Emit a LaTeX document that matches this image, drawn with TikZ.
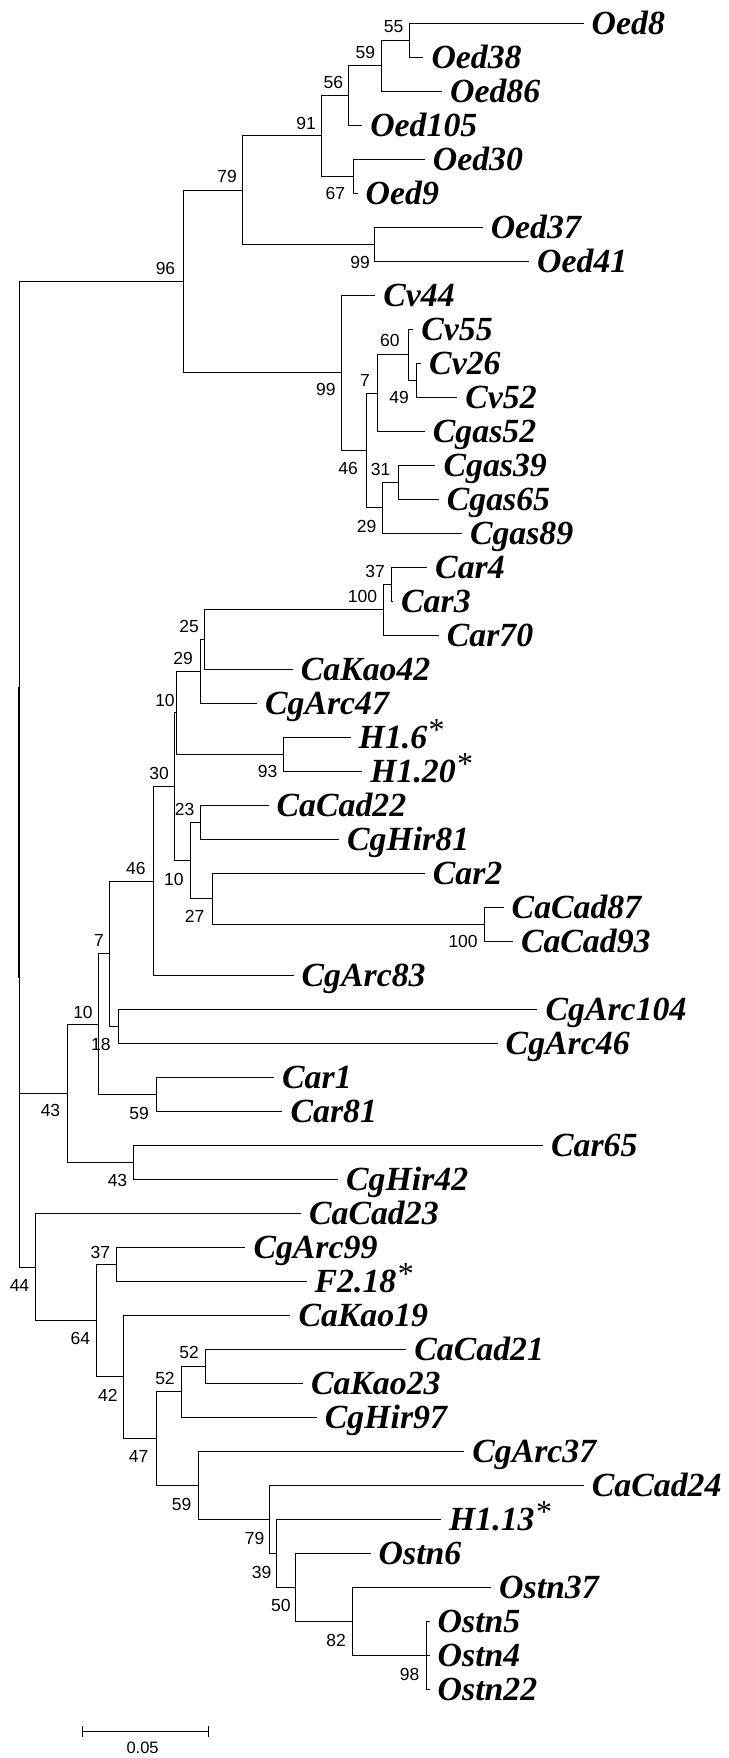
\documentclass[tikz,border=0pt]{standalone}
\usepackage{fontspec}
\setmainfont{Liberation Serif}
\newfontfamily\bsfont{Liberation Sans}
\tikzset{
  br/.style={line width=1pt, black, line cap=rect},
  taxon/.style={anchor=base west, inner sep=0pt, font=\fontsize{33.8}{33.8}\selectfont\bfseries\itshape},
  boot/.style={inner sep=0pt, font=\bsfont\fontsize{17.5}{17.5}\selectfont},
}
\newcommand\mystar{\hspace{1.5pt}\raisebox{8pt}{\fontsize{32}{32}\selectfont\mdseries\upshape *}}
\newcommand\mkleaf[4]{\coordinate (#1) at (#2,#3); \node[taxon] (#1L) at ([xshift=8.5pt,yshift=-11pt]#1) {#4};}
\begin{document}
\begin{tikzpicture}[x=1pt,y=-1pt]
\useasboundingbox (0,0) rectangle (728,1758);
% leaves
\mkleaf{oed8}{583}{23.3}{Oed8}
\mkleaf{oed38}{422.8}{57.3}{Oed38}
\mkleaf{oed86}{441.4}{91.3}{Oed86}
\mkleaf{oed105}{361.6}{125.3}{Oed105}
\mkleaf{oed30}{424.2}{159.3}{Oed30}
\mkleaf{oed9}{357}{193.3}{Oed9}
\mkleaf{oed37}{482.1}{227.3}{Oed37}
\mkleaf{oed41}{528.5}{261.3}{Oed41}
\mkleaf{cv44}{374.6}{295.3}{Cv44}
\mkleaf{cv55}{412.6}{329.3}{Cv55}
\mkleaf{cv26}{420.5}{363.3}{Cv26}
\mkleaf{cv52}{456.6}{397.3}{Cv52}
\mkleaf{cgas52}{424.2}{431.3}{Cgas52}
\mkleaf{cgas39}{434.9}{465.3}{Cgas39}
\mkleaf{cgas65}{438.1}{499.3}{Cgas65}
\mkleaf{cgas89}{461.3}{533.3}{Cgas89}
\mkleaf{car4}{426.5}{567.3}{Car4}
\mkleaf{car3}{392.5}{601.3}{Car3}
\mkleaf{car70}{438.1}{635.3}{Car70}
\mkleaf{cakao42}{292.1}{669.3}{CaKao42}
\mkleaf{cgarc47}{256.4}{703.3}{CgArc47}
\mkleaf{h16}{350}{737.3}{H1.6\mystar}
\mkleaf{h120}{361.6}{771.3}{H1.20\mystar}
\mkleaf{cacad22}{268}{805.3}{CaCad22}
\mkleaf{cghir81}{338.4}{839.3}{CgHir81}
\mkleaf{car2}{424.2}{873.3}{Car2}
\mkleaf{cacad87}{503}{907.3}{CaCad87}
\mkleaf{cacad93}{512.3}{941.3}{CaCad93}
\mkleaf{cgarc83}{293}{975.3}{CgArc83}
\mkleaf{cgarc104}{536.9}{1009.3}{CgArc104}
\mkleaf{cgarc46}{497}{1043.3}{CgArc46}
\mkleaf{car1}{273.5}{1077.3}{Car1}
\mkleaf{car81}{281.9}{1111.3}{Car81}
\mkleaf{car65}{542.4}{1145.3}{Car65}
\mkleaf{cghir42}{337.5}{1179.3}{CgHir42}
\mkleaf{cacad23}{300.4}{1213.3}{CaCad23}
\mkleaf{cgarc99}{244.8}{1247.3}{CgArc99}
\mkleaf{f218}{306}{1281.3}{F2.18\mystar}
\mkleaf{cakao19}{289.8}{1315.3}{CaKao19}
\mkleaf{cacad21}{405.7}{1349.3}{CaCad21}
\mkleaf{cakao23}{302.3}{1383.3}{CaKao23}
\mkleaf{cghir97}{316.2}{1417.3}{CgHir97}
\mkleaf{cgarc37}{463.6}{1451.3}{CgArc37}
\mkleaf{cacad24}{583.2}{1485.3}{CaCad24}
\mkleaf{h113}{440.4}{1519.3}{H1.13\mystar}
\mkleaf{ostn6}{370}{1553.3}{Ostn6}
\mkleaf{ostn37}{490.5}{1587.3}{Ostn37}
\mkleaf{ostn5}{429}{1621.3}{Ostn5}
\mkleaf{ostn4}{429}{1655.3}{Ostn4}
\mkleaf{ostn22}{429}{1689.3}{Ostn22}
% internal nodes
\coordinate (n55) at (409.4,40.3);
\coordinate (n59) at (381,65.8);
\coordinate (n56) at (348.6,95.55);
\coordinate (n67) at (353.3,176.3);
\coordinate (n91) at (321.3,135.9);
\coordinate (n99a) at (374.6,244.3);
\coordinate (n79) at (242,190.1);
\coordinate (n49) at (416.3,380.3);
\coordinate (n60) at (408,354.8);
\coordinate (n7a) at (377.8,393.05);
\coordinate (n31) at (398.7,482.3);
\coordinate (n29a) at (382.5,507.8);
\coordinate (n46a) at (366.2,450.4);
\coordinate (n99b) at (341.7,372.9);
\coordinate (n96) at (183.1,281.5);
\coordinate (n37a) at (391.7,584.3);
\coordinate (n100a) at (383.6,609.8);
\coordinate (n25) at (204.9,639.55);
\coordinate (n29b) at (200.3,671.4);
\coordinate (n93) at (283.7,754.3);
\coordinate (n10a) at (176,712.9);
\coordinate (n23) at (200.3,822.3);
\coordinate (n100b) at (484.5,924.3);
\coordinate (n27) at (212.3,898.8);
\coordinate (n10b) at (190.1,860.55);
\coordinate (n30) at (174.8,786.7);
\coordinate (n46b) at (153,881);
\coordinate (n18) at (118.2,1026.3);
\coordinate (n7b) at (109.9,953.65);
\coordinate (n59a) at (156.7,1094.3);
\coordinate (n10c) at (98.3,1024);
\coordinate (n43b) at (133.5,1162.3);
\coordinate (n43a) at (67.2,1093.1);
\coordinate (n52i) at (205.4,1366.3);
\coordinate (n52o) at (181.7,1391.8);
\coordinate (n98) at (426.5,1655.3);
\coordinate (n82) at (352.3,1621.3);
\coordinate (n50) at (295.8,1587.3);
\coordinate (n39) at (276.3,1553.3);
\coordinate (n79b) at (269.4,1519.3);
\coordinate (n59b) at (198.4,1485.3);
\coordinate (n47) at (156.2,1438.55);
\coordinate (n42) at (123.8,1376.9);
\coordinate (n37b) at (116.8,1264.3);
\coordinate (n64) at (96.9,1320.6);
\coordinate (n44) at (35.7,1267);
\coordinate (root) at (19.5,687.3);
\coordinate (rootA) at (18,687.3);
\coordinate (rootB) at (18,977.2);
% branches
\draw[br] (n55) |- (oed8); \draw[br] (n55) |- (oed38);
\draw[br] (n59) |- (n55); \draw[br] (n59) |- (oed86);
\draw[br] (n56) |- (n59); \draw[br] (n56) |- (oed105);
\draw[br] (n67) |- (oed30); \draw[br] (n67) |- (oed9);
\draw[br] (n91) |- (n56); \draw[br] (n91) |- (n67);
\draw[br] (n99a) |- (oed37); \draw[br] (n99a) |- (oed41);
\draw[br] (n79) |- (n91); \draw[br] (n79) |- (n99a);
\draw[br] (n49) |- (cv26); \draw[br] (n49) |- (cv52);
\draw[br] (n60) |- (cv55); \draw[br] (n60) |- (n49);
\draw[br] (n7a) |- (n60); \draw[br] (n7a) |- (cgas52);
\draw[br] (n31) |- (cgas39); \draw[br] (n31) |- (cgas65);
\draw[br] (n29a) |- (n31); \draw[br] (n29a) |- (cgas89);
\draw[br] (n46a) |- (n7a); \draw[br] (n46a) |- (n29a);
\draw[br] (n99b) |- (cv44); \draw[br] (n99b) |- (n46a);
\draw[br] (n96) |- (n79); \draw[br] (n96) |- (n99b);
\draw[br] (n37a) |- (car4); \draw[br] (n37a) |- (car3);
\draw[br] (n100a) |- (n37a); \draw[br] (n100a) |- (car70);
\draw[br] (n25) |- (n100a); \draw[br] (n25) |- (cakao42);
\draw[br] (n29b) |- (n25); \draw[br] (n29b) |- (cgarc47);
\draw[br] (n93) |- (h16); \draw[br] (n93) |- (h120);
\draw[br] (n10a) |- (n29b); \draw[br] (n10a) |- (n93);
\draw[br] (n23) |- (cacad22); \draw[br] (n23) |- (cghir81);
\draw[br] (n100b) |- (cacad87); \draw[br] (n100b) |- (cacad93);
\draw[br] (n27) |- (car2); \draw[br] (n27) |- (n100b);
\draw[br] (n10b) |- (n23); \draw[br] (n10b) |- (n27);
\draw[br] (n30) |- (n10a); \draw[br] (n30) |- (n10b);
\draw[br] (n46b) |- (n30); \draw[br] (n46b) |- (cgarc83);
\draw[br] (n18) |- (cgarc104); \draw[br] (n18) |- (cgarc46);
\draw[br] (n7b) |- (n46b); \draw[br] (n7b) |- (n18);
\draw[br] (n59a) |- (car1); \draw[br] (n59a) |- (car81);
\draw[br] (n10c) |- (n7b); \draw[br] (n10c) |- (n59a);
\draw[br] (n43b) |- (car65); \draw[br] (n43b) |- (cghir42);
\draw[br] (n43a) |- (n10c); \draw[br] (n43a) |- (n43b);
\draw[br] (n52i) |- (cacad21); \draw[br] (n52i) |- (cakao23);
\draw[br] (n52o) |- (n52i); \draw[br] (n52o) |- (cghir97);
\draw[br] (n98) |- (ostn5); \draw[br] (n98) |- (ostn4); \draw[br] (n98) |- (ostn22);
\draw[br] (n82) |- (ostn37); \draw[br] (n82) |- (n98);
\draw[br] (n50) |- (ostn6); \draw[br] (n50) |- (n82);
\draw[br] (n39) |- (h113); \draw[br] (n39) |- (n50);
\draw[br] (n79b) |- (cacad24); \draw[br] (n79b) |- (n39);
\draw[br] (n59b) |- (cgarc37); \draw[br] (n59b) |- (n79b);
\draw[br] (n47) |- (n52o); \draw[br] (n47) |- (n59b);
\draw[br] (n42) |- (cakao19); \draw[br] (n42) |- (n47);
\draw[br] (n37b) |- (cgarc99); \draw[br] (n37b) |- (f218);
\draw[br] (n64) |- (n37b); \draw[br] (n64) |- (n42);
\draw[br] (n44) |- (cacad23); \draw[br] (n44) |- (n64);
\draw[br] (root) |- (n96); \draw[br] (root) |- (n43a); \draw[br] (root) |- (n44);
\draw[br] (rootA) -- (rootB);
% bootstrap values
\node[boot] (b55) at (393.6,27) {55};
\node[boot] (b59) at (365.3,52.3) {59};
\node[boot] (b56) at (333.3,82) {56};
\node[boot] (b91) at (306,123.3) {91};
\node[boot] (b67) at (335.4,193.3) {67};
\node[boot] (b79) at (227.2,176.7) {79};
\node[boot] (b99a) at (360,262.3) {99};
\node[boot] (b96) at (165.5,268.7) {96};
\node[boot] (b60) at (389.9,340.7) {60};
\node[boot] (b7a) at (365.1,380) {7};
\node[boot] (b49) at (399.2,397.7) {49};
\node[boot] (b99b) at (325.9,389.3) {99};
\node[boot] (b46a) at (348.2,468.3) {46};
\node[boot] (b31) at (380.6,469.3) {31};
\node[boot] (b29a) at (366.7,526) {29};
\node[boot] (b37a) at (375,571) {37};
\node[boot] (b100a) at (362.5,596.7) {100};
\node[boot] (b25) at (189.2,626) {25};
\node[boot] (b29b) at (183.1,658.3) {29};
\node[boot] (b10a) at (165,700) {10};
\node[boot] (b93) at (267.7,771.7) {93};
\node[boot] (b30) at (159.2,773.3) {30};
\node[boot] (b23) at (184.5,809.3) {23};
\node[boot] (b46b) at (135.8,868.3) {46};
\node[boot] (b10b) at (173.9,879.3) {10};
\node[boot] (b27) at (194.7,916.7) {27};
\node[boot] (b100b) at (463.1,941.7) {100};
\node[boot] (b7b) at (99,940.7) {7};
\node[boot] (b10c) at (83,1012.7) {10};
\node[boot] (b18) at (100.8,1044) {18};
\node[boot] (b59a) at (139.1,1113.3) {59};
\node[boot] (b43a) at (50.5,1110.7) {43};
\node[boot] (b43b) at (117.5,1180.7) {43};
\node[boot] (b37b) at (100.4,1252.7) {37};
\node[boot] (b44) at (19.5,1285) {44};
\node[boot] (b64) at (80.4,1338.3) {64};
\node[boot] (b52i) at (189.2,1352.7) {52};
\node[boot] (b52o) at (165,1378.3) {52};
\node[boot] (b42) at (107.8,1395.3) {42};
\node[boot] (b47) at (138.6,1456.7) {47};
\node[boot] (b59b) at (181.7,1504) {59};
\node[boot] (b79b) at (254.5,1538.3) {79};
\node[boot] (b39) at (261.5,1572.3) {39};
\node[boot] (b50) at (280.9,1605.7) {50};
\node[boot] (b82) at (336.1,1640) {82};
\node[boot] (b98) at (409.6,1674.3) {98};
% scale bar
\coordinate (sbL) at (82.5,1731.7);
\coordinate (sbR) at (208.6,1731.7);
\draw[br, line cap=butt] (sbL) -- (sbR);
\draw[br, line cap=butt] ([yshift=5.7pt]sbL) -- ([yshift=-5.7pt]sbL);
\draw[br, line cap=butt] ([yshift=5.7pt]sbR) -- ([yshift=-5.7pt]sbR);
\node[boot, font=\bsfont\fontsize{16.5}{16.5}\selectfont] (sblab) at (142.6,1747.7) {0.05};
\end{tikzpicture}
\end{document}
